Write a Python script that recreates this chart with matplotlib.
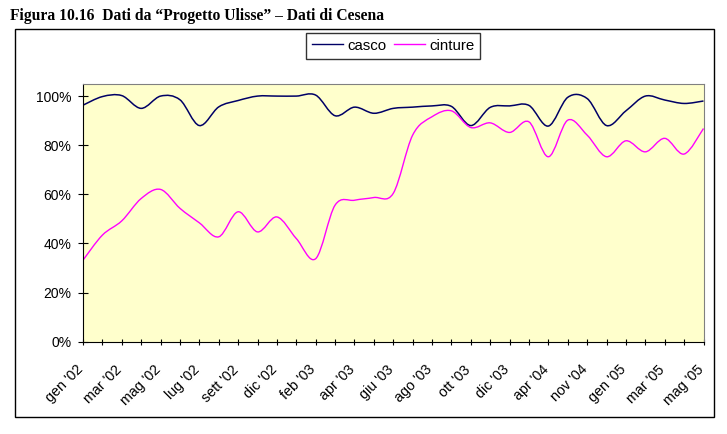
import numpy as np
import matplotlib
matplotlib.use('Agg')
import matplotlib.pyplot as plt
from matplotlib.path import Path
from matplotlib.patches import PathPatch, Rectangle
from matplotlib.lines import Line2D
from matplotlib.transforms import ScaledTranslation

# monthly categories (only every other one is labelled on the axis)
mesi = ["gen '02", "feb '02", "mar '02", "apr '02", "mag '02", "giu '02", "lug '02",
        "ago '02", "sett '02", "nov '02", "dic '02", "gen '03", "feb '03", "mar '03",
        "apr '03", "mag '03", "giu '03", "lug '03", "ago '03", "sett '03", "ott '03",
        "nov '03", "dic '03", "mar '04", "apr '04", "ott '04", "nov '04", "dic '04",
        "gen '05", "feb '05", "mar '05", "apr '05", "mag '05"]

# percent values
casco = [96.3, 99.8, 100.2, 95.0, 100.0, 98.5, 88.0, 95.6, 98.2, 100.0, 100.0,
         100.0, 100.4, 92.0, 95.5, 93.0, 95.0, 95.5, 96.0, 95.8, 88.0, 95.4,
         96.0, 96.2, 87.8, 99.5, 99.0, 88.0, 94.0, 100.0, 98.4, 97.0, 98.0]
cinture = [33.2, 43.4, 49.2, 58.3, 62.0, 54.3, 48.4, 42.7, 52.9, 44.7, 50.8,
           42.0, 33.8, 55.6, 57.6, 58.7, 60.4, 84.1, 91.6, 94.0, 87.2, 89.1,
           85.2, 89.5, 75.3, 90.2, 84.1, 75.3, 81.8, 77.3, 82.8, 76.4, 86.8]

plt.rcParams['font.family'] = ['Liberation Sans', 'DejaVu Sans']


def smooth_path(xs, ys):
    # excel-like smoothed line: cubic bezier through every point
    p = np.column_stack([xs, ys]).astype(float)
    n = len(p)
    verts = [p[0]]
    codes = [Path.MOVETO]
    for i in range(n - 1):
        a = p[max(i - 1, 0)]
        b = p[i]
        c = p[i + 1]
        d = p[min(i + 2, n - 1)]
        verts += [b + (c - a) / 6.0, c - (d - b) / 6.0, c]
        codes += [Path.CURVE4] * 3
    return Path(verts, codes)


fig = plt.figure(figsize=(7.27, 4.34), dpi=100)

# outer frame of the chart
fig.patches.append(Rectangle((15 / 727, 1 - 417 / 434), 699 / 727, 388 / 434,
                             transform=fig.transFigure, fill=False,
                             edgecolor='black', linewidth=1.0))

fig.text(10 / 727, 1 - 19.5 / 434,
         "Figura 10.16  Dati da \u201cProgetto Ulisse\u201d \u2013 Dati di Cesena",
         family='Liberation Serif', weight='bold', fontsize=11.25, va='baseline')

ax = fig.add_axes([83 / 727, 1 - 341.7 / 434, 620.5 / 727, 257.4 / 434])
ax.set_facecolor('#FFFFCC')

x = np.arange(len(mesi))
c_casco = '#000066'
c_cinture = '#FF00FF'
ax.add_patch(PathPatch(smooth_path(x, np.array(casco) / 100), fill=False,
                       edgecolor=c_casco, linewidth=1.1))
ax.add_patch(PathPatch(smooth_path(x, np.array(cinture) / 100), fill=False,
                       edgecolor=c_cinture, linewidth=1.0))

ax.set_xlim(0, len(mesi) - 1)
ax.set_ylim(0, 1.048)

ax.set_yticks([0, 0.2, 0.4, 0.6, 0.8, 1.0])
ax.set_yticklabels(['0%', '20%', '40%', '60%', '80%', '100%'], fontsize=10)
ax.set_xticks(x)
ax.set_xticklabels([m if i % 2 == 0 else '' for i, m in enumerate(mesi)],
                   fontsize=10.3, rotation=45, ha='right', va='top',
                   rotation_mode='anchor')
ax.tick_params(axis='y', direction='inout', length=7, width=0.8, pad=5)
ax.tick_params(axis='x', direction='inout', length=5, width=0.8, pad=6)

# move the slanted labels a bit left and down, like the original
shift = ScaledTranslation(-0.07, -0.09, fig.dpi_scale_trans)
for lab in ax.get_xticklabels():
    lab.set_transform(lab.get_transform() + shift)

for s in ['top', 'right']:
    ax.spines[s].set_color('#808080')
    ax.spines[s].set_linewidth(0.8)
for s in ['left', 'bottom']:
    ax.spines[s].set_color('black')
    ax.spines[s].set_linewidth(0.8)

handles = [Line2D([], [], color=c_casco, linewidth=1.0),
           Line2D([], [], color=c_cinture, linewidth=1.0)]
leg = fig.legend(handles, ['casco', 'cinture'], ncol=2, loc='upper center',
                 bbox_to_anchor=(393 / 727, 1 - 32.7 / 434), fontsize=10.8,
                 frameon=True, fancybox=False, edgecolor='black',
                 handlelength=2.1, handletextpad=0.25, columnspacing=0.5,
                 borderpad=0.4, borderaxespad=0)
leg.get_frame().set_linewidth(1.0)

fig.savefig('out.png', dpi=100)
